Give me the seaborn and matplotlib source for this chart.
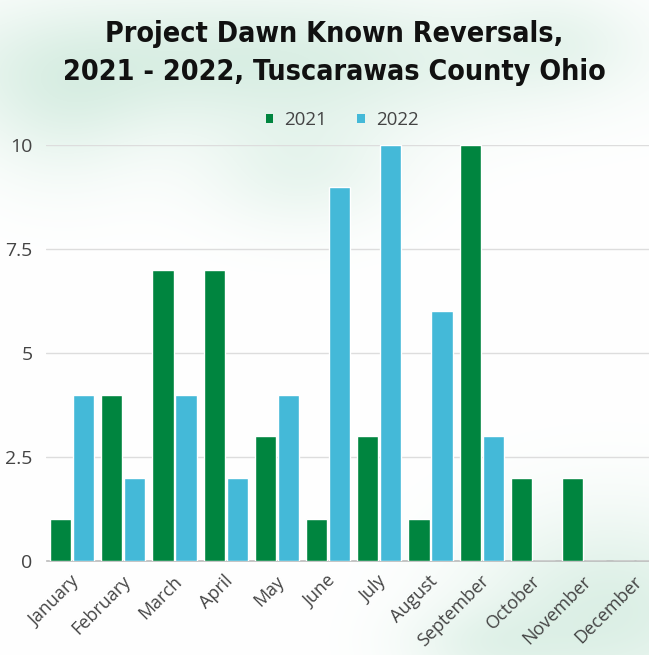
import numpy as np
import pandas as pd
import matplotlib
matplotlib.use("Agg")
import matplotlib.pyplot as plt
import matplotlib.transforms as mtransforms
from matplotlib.patches import Patch
import seaborn as sns

months = ["January", "February", "March", "April", "May", "June", "July",
          "August", "September", "October", "November", "December"]
values_2021 = [1, 4, 7, 7, 3, 1, 3, 1, 10, 2, 2, 0]
values_2022 = [4, 2, 4, 2, 4, 9, 10, 6, 3, 0, 0, 0]
series_names = ["2021", "2022"]
colors = ["#00853F", "#44B9D8"]
y_ticks = [0, 2.5, 5, 7.5, 10]
y_tick_labels = ["0", "2.5", "5", "7.5", "10"]
title = "Project Dawn Known Reversals,\n2021 - 2022, Tuscarawas County Ohio"

df = pd.DataFrame({
    "Month": months * 2,
    "Value": values_2021 + values_2022,
    "Year": [series_names[0]] * 12 + [series_names[1]] * 12,
})

sns.set_theme(style="white")
plt.rcParams["font.family"] = ["Open Sans", "DejaVu Sans"]

W, H = 649, 655
fig = plt.figure(figsize=(W / 100, H / 100), dpi=100)

# decorative watercolor wash background
bg = fig.add_axes([0, 0, 1, 1], zorder=-10)
yy, xx = np.mgrid[0:H, 0:W]
def blob(cx, cy, sx, sy, a):
    return a * np.exp(-(((xx - cx) / sx) ** 2 + ((yy - cy) / sy) ** 2))
wash = (blob(250, 60, 300, 70, 0.8) + blob(60, 110, 90, 80, 0.4)
        + blob(300, 170, 100, 60, 0.45) + blob(560, 40, 80, 50, 0.3)
        + blob(610, 610, 140, 100, 0.75) + blob(480, 645, 80, 40, 0.35))
wash = np.clip(wash, 0, 1)
base = np.array([1.0, 1.0, 1.0])
tint = np.array([0.82, 0.92, 0.87])
img = base[None, None, :] * (1 - wash[..., None]) + tint[None, None, :] * wash[..., None]
bg.imshow(img, extent=[0, W, H, 0], aspect="auto", interpolation="bilinear")
bg.set_xlim(0, W)
bg.set_ylim(H, 0)
bg.axis("off")

left_px, right_px = 46.5, 649
bottom_px, top_px = 561, 145
ax = fig.add_axes([left_px / W, (H - bottom_px) / H,
                   (right_px - left_px) / W, (bottom_px - top_px) / H])
ax.set_facecolor("none")

sns.barplot(data=df, x="Month", y="Value", hue="Year", order=months,
            hue_order=series_names, palette=colors, width=0.9, gap=0.08,
            saturation=1, ax=ax, legend=False, zorder=3)

cat_px = 51.2
ax.set_xlim(-0.5, -0.5 + (right_px - left_px) / cat_px)
ax.set_ylim(0, 10)
ax.set_yticks(y_ticks)
ax.set_yticklabels(y_tick_labels)
ax.grid(axis="y", color="#dddddd", linewidth=1, zorder=0)
ax.set_axisbelow(True)
for s in ["top", "right", "left"]:
    ax.spines[s].set_visible(False)
ax.spines["bottom"].set_color("#bbbbbb")
ax.spines["bottom"].set_linewidth(1.2)
ax.set_xlabel("")
ax.set_ylabel("")
ax.tick_params(axis="y", length=0, pad=10, labelsize=14, labelcolor="#444444")
ax.tick_params(axis="x", length=0, pad=8, labelsize=13, labelcolor="#444444")
for lbl in ax.get_xticklabels():
    lbl.set_rotation(45)
    lbl.set_ha("right")
    lbl.set_rotation_mode("anchor")
offset = mtransforms.ScaledTranslation(-2 / 100, 0, fig.dpi_scale_trans)
for lbl in ax.get_xticklabels():
    lbl.set_transform(lbl.get_transform() + offset)

# legend
handles = [Patch(facecolor=c, edgecolor="none") for c in colors]
fig.legend(handles, series_names, loc="center", bbox_to_anchor=(0.527, (H - 120) / H),
           ncol=2, frameon=False, fontsize=13.5, handlelength=0.4, handleheight=0.4,
           handletextpad=0.6, columnspacing=1.6, labelcolor="#444444")

fig.text(0.515, (H - 53) / H, title, ha="center", va="center", fontsize=20.5,
         fontweight="bold", fontstretch="condensed",
         family=["DejaVu Sans"], color="#111111", linespacing=1.45)

fig.savefig("out.png", dpi=100)
